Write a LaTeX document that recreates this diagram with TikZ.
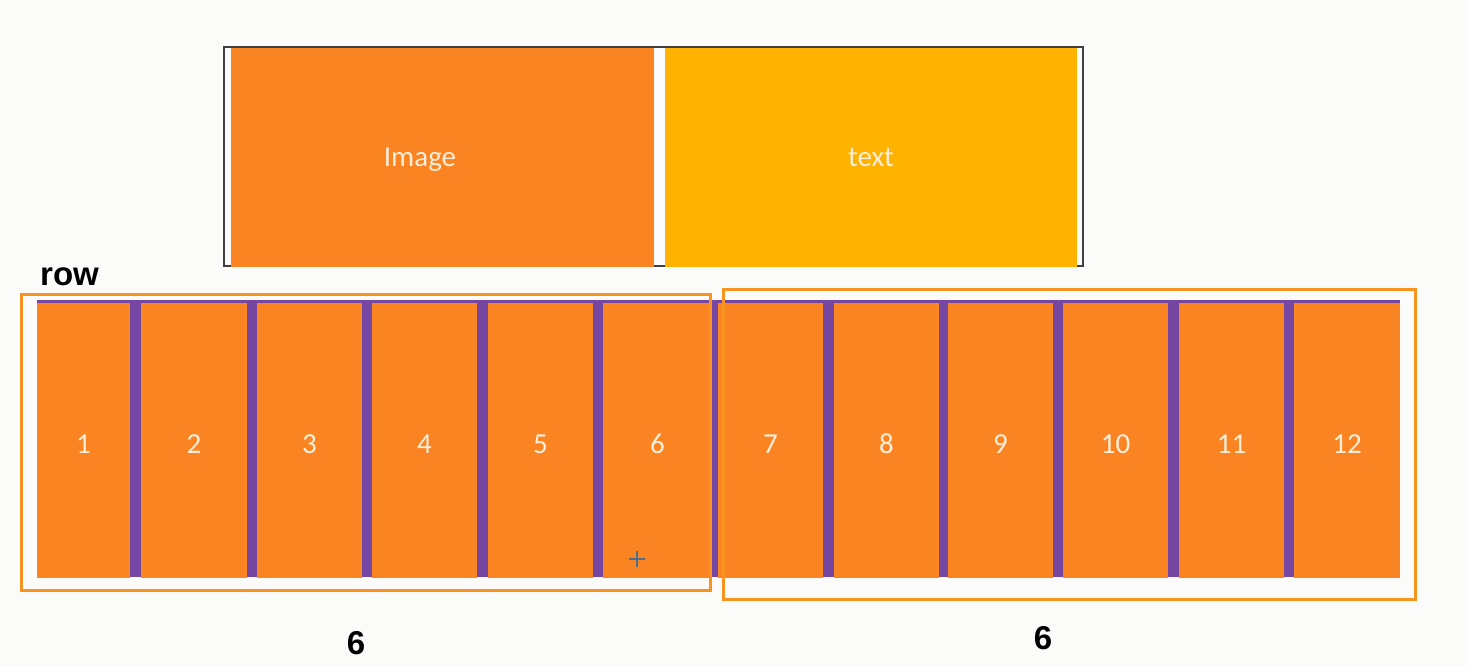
\documentclass[tikz,border=0pt]{standalone}
\usepackage{fontspec}
\setmainfont{Carlito}
\newfontfamily\boldsans{Liberation Sans}
\definecolor{bg}{HTML}{FBFBFA}
\definecolor{colorange}{HTML}{FA8422}
\definecolor{imgyellow}{HTML}{FFB200}
\definecolor{gutter}{HTML}{7546A2}
\definecolor{frameorange}{HTML}{F7931E}
\definecolor{labelcream}{HTML}{FDEEDC}
\definecolor{crossblue}{HTML}{4F6E8C}
\begin{document}
\begin{tikzpicture}[x=1pt,y=-1pt,
  colbox/.style={fill=colorange, inner sep=0pt, minimum height=275pt},
  collabel/.style={text=labelcream, font=\fontsize{29}{29}\selectfont, inner sep=0pt, anchor=base},
  topbox/.style={inner sep=0pt, minimum height=219pt},
  toplabel/.style={text=labelcream, font=\fontsize{29}{29}\selectfont, inner sep=0pt, anchor=base},
  groupframe/.style={draw=frameorange, line width=3pt},
  bigtext/.style={font=\boldsans\bfseries\fontsize{33}{33}\selectfont, text=black, inner sep=0pt}]
\fill[bg] (0,0) rectangle (1468,666);
\useasboundingbox (0,0) rectangle (1468,666);
% top frame
\draw[black!75, line width=1.2pt] (224,47) rectangle (1083,266);
\node[topbox, fill=colorange, minimum width=423pt] (img) at (442.5,157.5) {};
\node[topbox, fill=imgyellow, minimum width=412pt] (txt) at (871,157.5) {};
\node[toplabel] (imgl) at (420,167) {Image};
\node[toplabel] (txtl) at (871,167) {text};
% purple gutter band
\fill[gutter] (37,300) rectangle (1400,577);
% columns
\foreach \i/\l/\r in {1/37/130, 2/141/247, 3/257/362, 4/372/477, 5/488/593, 6/603/712,
                      7/718/823, 8/834/939, 9/948/1053, 10/1063/1168, 11/1179/1284, 12/1294/1400}{
  \pgfmathsetmacro{\cx}{(\l+\r)/2}
  \pgfmathsetmacro{\w}{\r-\l}
  \node[colbox, minimum width=\w pt] (c\i) at (\cx,440.5) {};
  \node[collabel] (l\i) at (\cx,453) {\i};
}
% cross marker
\draw[crossblue, line width=1.1pt] (629,559) -- (645,559) (637,551) -- (637,567);
% group frames
\draw[groupframe] (21,294) rectangle (710,590);
\draw[groupframe] (723,289) rectangle (1415,599);
% labels
\node[bigtext, anchor=base west] (rowl) at (40,285) {row};
\node[bigtext] (na) at (356,643) {6};
\node[bigtext] (nb) at (1043,638) {6};
\end{tikzpicture}
\end{document}
